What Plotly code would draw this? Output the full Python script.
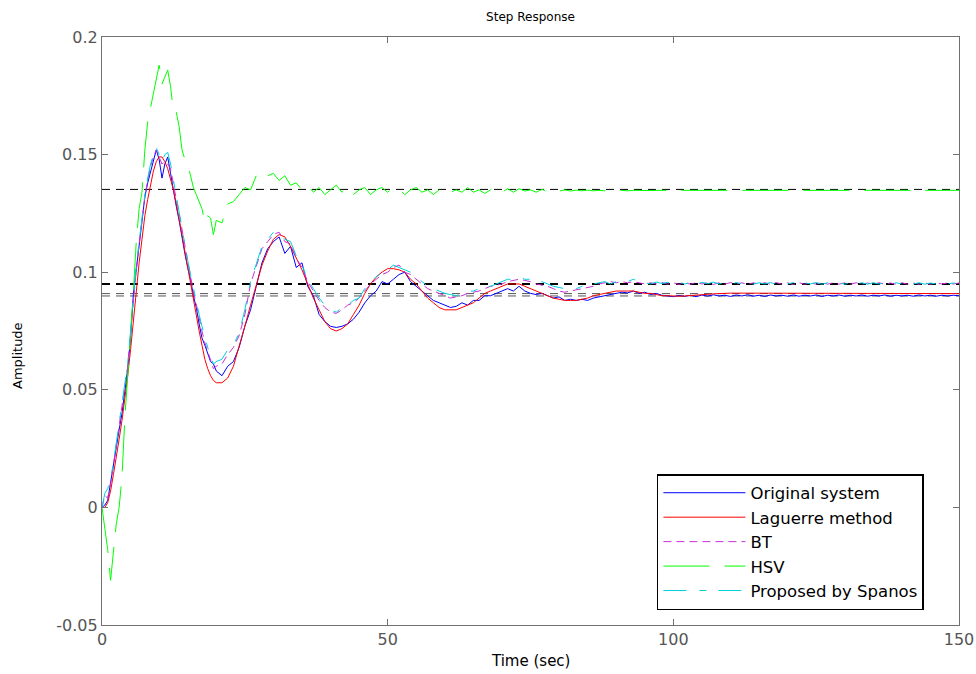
import plotly.graph_objects as go

# sample grid (seconds): 0..20 every 0.5 s, then 21..150 every 1 s
time_s = [i * 0.5 for i in range(41)] + list(range(21, 151))

original_system = [
    0.000, 0.001, 0.003, 0.011, 0.019, 0.025, 0.033, 0.040, 0.049, 0.059,
    0.072, 0.091, 0.101, 0.111, 0.122, 0.132, 0.138, 0.143, 0.147, 0.152,
    0.148, 0.140, 0.146, 0.149, 0.142, 0.134, 0.128, 0.122, 0.114, 0.108,
    0.102, 0.097, 0.090, 0.085, 0.078, 0.072, 0.069, 0.065, 0.062, 0.061,
    0.058,
    0.056, 0.060, 0.062, 0.068, 0.077, 0.084, 0.094, 0.104, 0.110, 0.113,
    0.115, 0.108, 0.111, 0.102, 0.104, 0.094, 0.090, 0.082, 0.079, 0.077,
    0.0765, 0.077, 0.078, 0.080, 0.083, 0.087, 0.090, 0.092, 0.096, 0.095,
    0.097, 0.099, 0.100, 0.096, 0.094, 0.092, 0.090, 0.088, 0.087, 0.086,
    0.085, 0.0855, 0.087, 0.086, 0.088, 0.088, 0.090, 0.090, 0.091, 0.092,
    0.093, 0.092, 0.094, 0.092, 0.091, 0.0905, 0.091, 0.090, 0.089, 0.0895,
    0.088, 0.0885, 0.088, 0.0885, 0.088, 0.089, 0.0895, 0.090, 0.0905, 0.091,
    0.0915, 0.0912, 0.092, 0.091, 0.0915, 0.0905, 0.091, 0.0902, 0.0898, 0.0896,
    0.0901, 0.0897, 0.0902, 0.0896, 0.0903, 0.0898, 0.0904, 0.0899, 0.0902, 0.0897,
    0.0903, 0.0899, 0.0904, 0.0898, 0.0902, 0.0897, 0.0903, 0.0899, 0.0902, 0.0898,
    0.0903, 0.0898, 0.0902, 0.0899, 0.0903, 0.0897, 0.0902, 0.0899, 0.0903, 0.0898,
    0.0902, 0.0899, 0.0903, 0.0898, 0.0902, 0.0899, 0.0903, 0.0898, 0.0902, 0.0899,
    0.0902, 0.0898, 0.0903, 0.0899, 0.0902, 0.0898, 0.0902, 0.0899, 0.0902, 0.0900,
]

laguerre_method = [
    0.000, 0.000, 0.002, 0.007, 0.014, 0.021, 0.029, 0.037, 0.046, 0.056,
    0.067, 0.080, 0.093, 0.104, 0.114, 0.124, 0.131, 0.137, 0.143, 0.147,
    0.149, 0.149, 0.147, 0.144, 0.140, 0.135, 0.129, 0.123, 0.116, 0.109,
    0.102, 0.095, 0.088, 0.081, 0.075, 0.069, 0.063, 0.059, 0.056, 0.054,
    0.053,
    0.053, 0.055, 0.060, 0.068, 0.077, 0.086, 0.095, 0.103, 0.109, 0.114,
    0.116, 0.115, 0.111, 0.106, 0.101, 0.095, 0.089, 0.084, 0.079, 0.076,
    0.075, 0.076, 0.078, 0.082, 0.086, 0.091, 0.095, 0.098, 0.100, 0.1015,
    0.1015, 0.101, 0.100, 0.097, 0.095, 0.092, 0.089, 0.087, 0.085, 0.084,
    0.084, 0.084, 0.085, 0.086, 0.087, 0.089, 0.091, 0.092, 0.093, 0.094,
    0.095, 0.095, 0.095, 0.094, 0.093, 0.092, 0.091, 0.090, 0.089, 0.0885,
    0.088, 0.088, 0.088, 0.0885, 0.089, 0.090, 0.0905, 0.091, 0.0915, 0.092,
    0.092, 0.092, 0.092, 0.0915, 0.091, 0.091, 0.0905, 0.090, 0.090, 0.0898,
    0.0898, 0.0899, 0.0900, 0.0902, 0.0904, 0.0906, 0.0908, 0.0910, 0.0911, 0.0911,
    0.0911, 0.0911, 0.0910, 0.0910, 0.0909, 0.0909, 0.0908, 0.0908, 0.0908, 0.0908,
    0.0909, 0.0909, 0.0909, 0.0909, 0.0909, 0.0909, 0.0909, 0.0909, 0.0909, 0.0909,
    0.0909, 0.0909, 0.0909, 0.0909, 0.0909, 0.0909, 0.0909, 0.0909, 0.0909, 0.0909,
    0.0909, 0.0909, 0.0909, 0.0909, 0.0909, 0.0909, 0.0909, 0.0909, 0.0909, 0.0909,
]

bt = [
    0.000, 0.005, 0.004, 0.010, 0.018, 0.026, 0.034, 0.042, 0.050, 0.060,
    0.074, 0.089, 0.101, 0.112, 0.122, 0.132, 0.139, 0.145, 0.149, 0.152,
    0.149, 0.146, 0.147, 0.146, 0.144, 0.137, 0.131, 0.125, 0.118, 0.111,
    0.104, 0.098, 0.092, 0.086, 0.080, 0.075, 0.070, 0.066, 0.062, 0.059,
    0.060,
    0.061, 0.065, 0.068, 0.073, 0.082, 0.095, 0.103, 0.110, 0.113, 0.116,
    0.117, 0.113, 0.112, 0.106, 0.102, 0.096, 0.092, 0.088, 0.085, 0.083,
    0.0825, 0.084, 0.086, 0.087, 0.089, 0.092, 0.095, 0.097, 0.099, 0.100,
    0.102, 0.103, 0.100, 0.099, 0.097, 0.095, 0.093, 0.092, 0.091, 0.090,
    0.089, 0.0895, 0.090, 0.091, 0.0915, 0.092, 0.093, 0.094, 0.0945, 0.095,
    0.096, 0.0965, 0.097, 0.0965, 0.096, 0.095, 0.0945, 0.094, 0.093, 0.092,
    0.0915, 0.092, 0.0925, 0.093, 0.0935, 0.094, 0.095, 0.0955, 0.096, 0.0955,
    0.096, 0.0955, 0.096, 0.0955, 0.095, 0.0955, 0.095, 0.0956, 0.0949, 0.0955,
    0.0948, 0.0955, 0.0949, 0.0956, 0.0950, 0.0955, 0.0948, 0.0955, 0.0949, 0.0956,
    0.0949, 0.0955, 0.0948, 0.0955, 0.0949, 0.0955, 0.0949, 0.0956, 0.0949, 0.0955,
    0.0948, 0.0955, 0.0949, 0.0955, 0.0949, 0.0956, 0.0949, 0.0955, 0.0949, 0.0955,
    0.0949, 0.0955, 0.0949, 0.0954, 0.0949, 0.0955, 0.0949, 0.0954, 0.0949, 0.0955,
    0.0949, 0.0954, 0.0949, 0.0954, 0.0949, 0.0954, 0.0950, 0.0954, 0.0950, 0.0954,
]

hsv = [
    0.000, -0.008, -0.018, -0.031, -0.019, -0.007, 0.000, 0.013, 0.038, 0.056,
    0.070, 0.092, 0.113, 0.127, 0.134, 0.152, 0.164, 0.170, 0.177, 0.183,
    0.188, 0.180, 0.183, 0.186, 0.179, 0.168, 0.168, 0.162, 0.152, 0.148,
    0.146, 0.141, 0.136, 0.133, 0.130, 0.127, 0.121, 0.124, 0.123, 0.116,
    0.122,
    0.121, 0.129, 0.130, 0.133, 0.136, 0.135, 0.141, 0.139, 0.141, 0.142,
    0.139, 0.141, 0.137, 0.138, 0.135, 0.137, 0.134, 0.136, 0.133, 0.135,
    0.137, 0.134, 0.136, 0.133, 0.135, 0.136, 0.133, 0.135, 0.136, 0.134,
    0.136, 0.135, 0.133, 0.135, 0.136, 0.134, 0.135, 0.133, 0.135, 0.136,
    0.134, 0.135, 0.134, 0.136, 0.134, 0.135, 0.1335, 0.135, 0.136, 0.134,
    0.1355, 0.134, 0.1355, 0.1345, 0.135, 0.134, 0.1352, 0.1343, 0.135, 0.1345,
    0.1350, 0.1345, 0.1349, 0.1346, 0.1349, 0.1346, 0.1348, 0.1346, 0.1348, 0.1347,
    0.1348, 0.1346, 0.1348, 0.1347, 0.1348, 0.1347, 0.1348, 0.1348, 0.1348, 0.1348,
    0.1348, 0.1348, 0.1348, 0.1348, 0.1348, 0.1348, 0.1348, 0.1348, 0.1348, 0.1348,
    0.1348, 0.1348, 0.1348, 0.1348, 0.1348, 0.1348, 0.1348, 0.1348, 0.1348, 0.1348,
    0.1348, 0.1348, 0.1348, 0.1348, 0.1348, 0.1348, 0.1348, 0.1348, 0.1348, 0.1348,
    0.1348, 0.1348, 0.1348, 0.1348, 0.1348, 0.1348, 0.1348, 0.1348, 0.1348, 0.1348,
    0.1348, 0.1348, 0.1348, 0.1348, 0.1348, 0.1348, 0.1348, 0.1348, 0.1348, 0.1348,
]

proposed_spanos = [
    0.000, 0.006, 0.008, 0.012, 0.019, 0.027, 0.035, 0.043, 0.051, 0.061,
    0.075, 0.090, 0.103, 0.113, 0.123, 0.133, 0.140, 0.146, 0.150, 0.153,
    0.150, 0.147, 0.150, 0.151, 0.146, 0.139, 0.133, 0.126, 0.119, 0.112,
    0.105, 0.099, 0.093, 0.087, 0.082, 0.077, 0.072, 0.068, 0.064, 0.061,
    0.062,
    0.063, 0.067, 0.069, 0.074, 0.084, 0.096, 0.104, 0.111, 0.114, 0.117,
    0.116, 0.114, 0.113, 0.107, 0.103, 0.097, 0.093, 0.089, 0.086, 0.084,
    0.083, 0.085, 0.086, 0.088, 0.089, 0.093, 0.096, 0.098, 0.100, 0.101,
    0.103, 0.102, 0.101, 0.100, 0.098, 0.096, 0.094, 0.093, 0.092, 0.091,
    0.0905, 0.090, 0.091, 0.092, 0.092, 0.093, 0.094, 0.094, 0.095, 0.096,
    0.097, 0.097, 0.098, 0.097, 0.097, 0.0965, 0.096, 0.095, 0.094, 0.0935,
    0.093, 0.0925, 0.093, 0.094, 0.0945, 0.095, 0.0955, 0.096, 0.095, 0.096,
    0.0965, 0.096, 0.097, 0.096, 0.0955, 0.095, 0.0958, 0.0952, 0.0957, 0.095,
    0.0958, 0.0950, 0.0956, 0.0949, 0.0957, 0.0951, 0.0958, 0.0950, 0.0955, 0.0948,
    0.0956, 0.0950, 0.0957, 0.0949, 0.0955, 0.0950, 0.0956, 0.0949, 0.0955, 0.0950,
    0.0956, 0.0949, 0.0955, 0.0950, 0.0956, 0.0949, 0.0955, 0.0950, 0.0955, 0.0949,
    0.0955, 0.0950, 0.0955, 0.0949, 0.0955, 0.0950, 0.0954, 0.0949, 0.0955, 0.0950,
    0.0954, 0.0950, 0.0955, 0.0949, 0.0954, 0.0950, 0.0954, 0.0950, 0.0954, 0.0951,
]

# steady-state reference levels (dashed horizontal lines)
steady_levels = [0.1352, 0.0950, 0.0909, 0.0899]
steady_colors = ["#000000", "#000000", "#555555", "#555555"]
steady_widths = [1, 2, 1, 1]

series_names = ["Original system", "Laguerre method", "BT", "HSV", "Proposed by Spanos"]
series_values = [original_system, laguerre_method, bt, hsv, proposed_spanos]
series_colors = ["#0000FF", "#FF0000", "#C830D8", "#00FF00", "#00D0D8"]
series_dash = ["solid", "solid", "8px,5px", "46px,15px", "23px,13px,7px,12px"]

x_range = [0, 150]
y_range = [-0.05, 0.2]
x_ticks = [0, 50, 100, 150]
y_ticks = [-0.05, 0, 0.05, 0.1, 0.15, 0.2]
y_tick_text = ["-0.05", "0", "0.05", "0.1", "0.15", "0.2"]

FONT = "DejaVu Sans, Liberation Sans, Arial, sans-serif"

fig = go.Figure()

for lvl, col, w in zip(steady_levels, steady_colors, steady_widths):
    fig.add_trace(go.Scatter(
        x=x_range, y=[lvl, lvl], mode="lines",
        line=dict(color=col, width=w, dash="8px,6px"),
        showlegend=False, hoverinfo="skip",
    ))

for name, vals, col, dash in zip(series_names, series_values, series_colors, series_dash):
    fig.add_trace(go.Scatter(
        x=time_s, y=vals, mode="lines", name=name,
        line=dict(color=col, width=1, dash=dash),
    ))

axis_common = dict(
    showline=True, linecolor="#707070", linewidth=1.2, mirror="ticks",
    ticks="inside", ticklen=6, tickcolor="#707070", tickwidth=1,
    showgrid=False, zeroline=False, ticklabeloverflow="allow", automargin=False,
    tickfont=dict(family=FONT, size=16, color="#555555"),
)

W, H = 976, 674
fig.update_layout(
    width=W, height=H,
    paper_bgcolor="white", plot_bgcolor="white",
    margin=dict(l=102, r=17, t=37, b=49, autoexpand=False),
    title=dict(text="Step Response", x=0.5, xref="paper", xanchor="center",
               y=1 - 17 / H, yanchor="middle",
               font=dict(family=FONT, size=12, color="black")),
    xaxis=dict(range=x_range, tickvals=x_ticks, **axis_common),
    yaxis=dict(range=y_range, tickvals=y_ticks, ticktext=y_tick_text, **axis_common),
    legend=dict(
        x=0.6475, y=0.2568, xanchor="left", yanchor="top",
        bgcolor="white", bordercolor="black", borderwidth=1.5,
        font=dict(family=FONT, size=16.5, color="black"),
        itemwidth=82, tracegroupgap=0,
    ),
    showlegend=True,
    annotations=[
        dict(text="Time (sec)", xref="paper", yref="paper", x=0.5, y=(625 - 661) / 588,
             xanchor="center", yanchor="middle", showarrow=False,
             font=dict(family=FONT, size=15, color="black")),
        dict(text="Amplitude", xref="paper", yref="paper", x=(17 - 102) / 857, y=(625 - 356) / 588,
             xanchor="center", yanchor="middle", showarrow=False, textangle=-90,
             font=dict(family=FONT, size=13, color="black")),
    ],
)

# remove the default page margin so the 976x674 figure sits exactly in the window
fig.write_html(
    "out.html",
    config={"displayModeBar": False},
    post_script="document.body.style.margin='0';document.body.style.padding='0';"
                "document.body.style.overflow='hidden';",
)
